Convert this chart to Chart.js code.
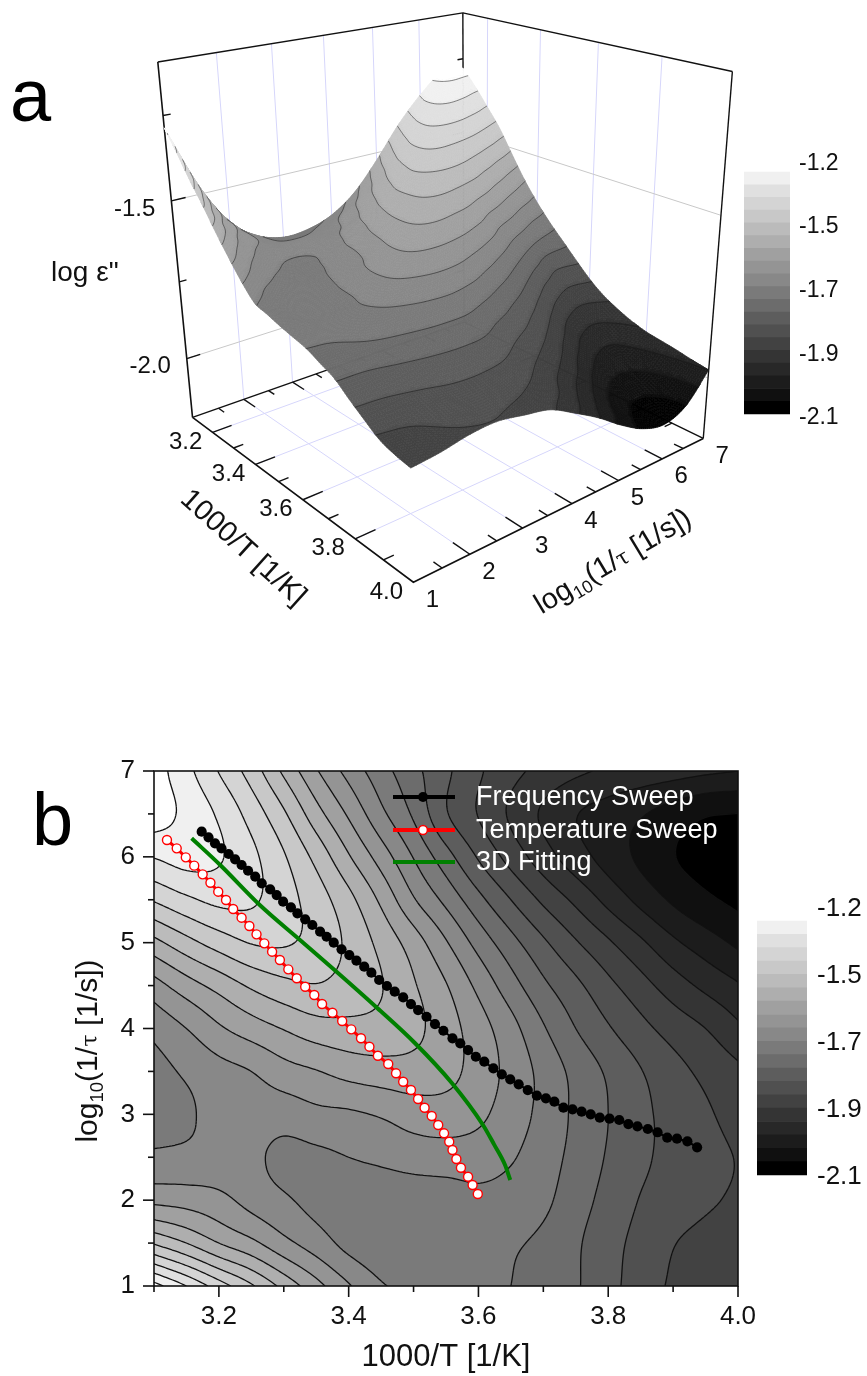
<!DOCTYPE html>
<html>
<head>
<meta charset="utf-8">
<title>log e'' surface</title>
<script src="https://cdn.jsdelivr.net/npm/chart.js@4/dist/chart.umd.min.js"></script>
<style>
  body { margin: 0; background: #fff; }
  canvas { position: absolute; }
</style>
</head>
<body>
<canvas id="surfaceChart" width="867" height="680" style="left:0;top:0"></canvas>
<canvas id="barTop" width="123" height="300" style="left:744px;top:140px"></canvas>
<canvas id="contourChart" width="867" height="676" style="left:0;top:700px"></canvas>
<canvas id="barBottom" width="110" height="310" style="left:757px;top:885px"></canvas>
<script>
// contour level (0 = black band, 19 = white corner), rows go from tau 7 down to 1
const tempAxis = [3.1, 3.15, 3.2, 3.25, 3.3, 3.35, 3.4, 3.45, 3.5, 3.55, 3.6, 3.65, 3.7, 3.75, 3.8, 3.85, 3.9, 3.95, 4.0]
const tauAxis = [7, 6.5, 6, 5.5, 5, 4.5, 4, 3.5, 3, 2.5, 2, 1.5, 1]
const levelGrid = [
  [19.5, 18.3, 16.95, 15.55, 13.8, 12.1, 10.65, 9.4, 8.3, 7.2, 6.15, 5.3, 4.7, 4.2, 3.85, 3.65, 3.45, 3.2, 3.0],
  [19.5, 18.75, 17.85, 16.6, 15.15, 13.4, 11.85, 10.25, 8.85, 7.1, 5.95, 4.85, 3.85, 3.05, 2.6, 2.1, 1.55, 1.1, 0.98],
  [18.05, 18.4, 18.1, 17.25, 16.1, 14.7, 13.1, 11.55, 9.95, 8.4, 6.9, 5.62, 4.46, 3.44, 2.6, 1.8, 1.05, 0.6, 0.3],
  [16.1, 16.8, 17.25, 17.15, 16.4, 15.5, 14.3, 12.8, 11.1, 9.73, 8.3, 7.0, 5.8, 4.77, 3.7, 2.71, 1.84, 1.2, 0.75],
  [13.7, 14.65, 15.45, 16.05, 16.1, 15.65, 14.8, 13.7, 12.5, 11.09, 9.63, 8.35, 7.17, 6.1, 5.14, 4.18, 3.2, 2.47, 1.8],
  [11.6, 12.55, 13.35, 14.15, 14.7, 14.95, 14.6, 14.05, 13.1, 12.06, 10.74, 9.42, 8.21, 7.24, 6.26, 5.38, 4.5, 3.75, 3.1],
  [10.28, 11.0, 11.85, 12.5, 13.05, 13.55, 13.7, 13.65, 13.25, 12.45, 11.45, 10.35, 9.1, 8.0, 7.1, 6.3, 5.6, 5.0, 4.2],
  [9.65, 10.15, 10.65, 11.0, 11.6, 11.95, 12.35, 12.55, 12.6, 12.35, 11.55, 10.68, 9.68, 8.7, 7.85, 7.05, 6.35, 5.75, 5.2],
  [9.55, 9.85, 10.35, 10.5, 10.45, 10.75, 10.85, 11.1, 11.45, 11.5, 11.2, 10.5, 9.7, 8.8, 8.0, 7.25, 6.65, 6.15, 5.6],
  [10.2, 10.25, 10.35, 10.2, 9.75, 9.8, 10.0, 10.2, 10.45, 10.55, 10.5, 10.1, 9.45, 8.7, 7.9, 7.2, 6.7, 6.3, 5.95],
  [11.75, 11.6, 11.3, 10.65, 10.15, 9.7, 9.5, 9.4, 9.4, 9.45, 9.7, 9.55, 9.2, 8.45, 7.65, 6.95, 6.55, 6.15, 5.85],
  [14.9, 14.0, 13.0, 12.25, 11.3, 10.5, 9.7, 9.3, 9.15, 9.15, 9.15, 9.1, 8.8, 8.15, 7.35, 6.7, 6.05, 5.7, 5.5],
  [19.4, 18.0, 16.5, 15.15, 13.7, 12.35, 11.1, 10.1, 9.8, 9.5, 9.25, 9.0, 8.55, 8.1, 7.3, 6.55, 5.85, 5.5, 5.3]
]

const freqSweepT = [3.1735, 3.184, 3.194, 3.204, 3.215, 3.225, 3.235, 3.245, 3.256, 3.266, 3.279, 3.289, 3.299, 3.311, 3.321, 3.333, 3.344, 3.356, 3.366, 3.377, 3.389, 3.401, 3.412, 3.424, 3.435, 3.447, 3.459, 3.471, 3.484, 3.496, 3.507, 3.52, 3.533, 3.546, 3.56, 3.572, 3.584, 3.596, 3.609, 3.623, 3.636, 3.649, 3.662, 3.676, 3.69, 3.704, 3.717, 3.731, 3.745, 3.759, 3.773, 3.787, 3.802, 3.817, 3.831, 3.845, 3.861, 3.876, 3.891, 3.906, 3.922, 3.937]
const freqSweepTau = [6.293, 6.227, 6.157, 6.099, 6.033, 5.971, 5.905, 5.838, 5.769, 5.691, 5.622, 5.555, 5.477, 5.412, 5.342, 5.272, 5.206, 5.128, 5.069, 5.0, 4.922, 4.856, 4.79, 4.72, 4.65, 4.565, 4.495, 4.429, 4.363, 4.285, 4.215, 4.137, 4.052, 3.974, 3.886, 3.827, 3.749, 3.671, 3.613, 3.536, 3.466, 3.408, 3.35, 3.283, 3.217, 3.187, 3.147, 3.077, 3.058, 3.031, 3.0, 2.961, 2.949, 2.934, 2.887, 2.86, 2.829, 2.791, 2.728, 2.716, 2.686, 2.616]
const tempSweepT = [3.12, 3.135, 3.149, 3.162, 3.175, 3.187, 3.199, 3.211, 3.222, 3.235, 3.247, 3.258, 3.27, 3.282, 3.294, 3.307, 3.32, 3.333, 3.347, 3.359, 3.375, 3.39, 3.404, 3.419, 3.432, 3.445, 3.461, 3.473, 3.484, 3.496, 3.507, 3.517, 3.528, 3.538, 3.547, 3.555, 3.56, 3.566, 3.573, 3.584, 3.591, 3.599]
const tempSweepTau = [6.196, 6.099, 5.994, 5.897, 5.796, 5.698, 5.594, 5.497, 5.392, 5.291, 5.194, 5.097, 4.992, 4.895, 4.798, 4.689, 4.585, 4.487, 4.39, 4.285, 4.184, 4.087, 3.99, 3.886, 3.788, 3.683, 3.586, 3.478, 3.38, 3.283, 3.179, 3.077, 2.98, 2.876, 2.779, 2.681, 2.584, 2.48, 2.378, 2.273, 2.177, 2.072]
const fitT = [3.158, 3.202, 3.263, 3.325, 3.38, 3.444, 3.502, 3.559, 3.607, 3.624, 3.641, 3.649]
const fitTau = [6.216, 5.905, 5.439, 5.031, 4.67, 4.239, 3.831, 3.365, 2.876, 2.65, 2.41, 2.235]

const bandGrays = [0, 16, 28, 40, 52, 66, 80, 93, 108, 122, 136, 148, 160, 174, 187, 200, 212, 224, 240]
const barLabels = ['-2.1', '-1.9', '-1.7', '-1.5', '-1.2']
const legendNames = ['Frequency Sweep', 'Temperature Sweep', '3D Fitting']
const FONT = '"Liberation Sans", Arial, sans-serif'

Chart.defaults.font.family = FONT
Chart.defaults.color = '#111'

function bandColor(i) {
  if (i >= bandGrays.length) return '#ffffff'
  let g = bandGrays[Math.max(i, 0)]
  return `rgb(${g},${g},${g})`
}

// catmull-rom over the grid read above
function cr(a, b, c, d, t) {
  return b + 0.5 * t * (c - a + t * (2 * a - 5 * b + 4 * c - d + t * (3 * (b - c) + d - a)))
}
function gridAt(r, c) {
  let rr = Math.min(Math.max(r, 0), tauAxis.length - 1)
  let cc = Math.min(Math.max(c, 0), tempAxis.length - 1)
  let v = levelGrid[rr][cc]
  if (r !== rr) v += (r - rr) * (levelGrid[rr][cc] - levelGrid[rr === 0 ? 1 : rr - 1][cc]) * (rr === 0 ? -1 : 1)
  if (c !== cc) v += (c - cc) * (levelGrid[rr][cc] - levelGrid[rr][cc === 0 ? 1 : cc - 1]) * (cc === 0 ? -1 : 1)
  return v
}
function levelAt(T, tau) {
  let u = (T - 3.1) / 0.05, v = (7 - tau) / 0.5
  let c = Math.min(Math.floor(u), tempAxis.length - 2), r = Math.min(Math.floor(v), tauAxis.length - 2)
  let fu = u - c, fv = v - r
  let rows = [-1, 0, 1, 2].map(dr => cr(gridAt(r + dr, c - 1), gridAt(r + dr, c), gridAt(r + dr, c + 1), gridAt(r + dr, c + 2), fu))
  return cr(rows[0], rows[1], rows[2], rows[3], fv)
}

function cutCell(pts, vals, L) {
  let poly = [], cross = []
  for (let i = 0; i < 4; i++) {
    let j = (i + 1) % 4
    if (vals[i] >= L) poly.push(pts[i])
    if ((vals[i] >= L) !== (vals[j] >= L)) {
      let t = (L - vals[i]) / (vals[j] - vals[i])
      let p = [pts[i][0] + t * (pts[j][0] - pts[i][0]), pts[i][1] + t * (pts[j][1] - pts[i][1])]
      poly.push(p)
      cross.push(p)
    }
  }
  return { poly, cross }
}
function addPoly(path, poly) {
  poly.forEach((p, i) => i ? path.lineTo(p[0], p[1]) : path.moveTo(p[0], p[1]))
  path.closePath()
}

function sampleSurface(nT, nTau) {
  let vals = []
  for (let i = 0; i <= nT; i++) {
    vals[i] = []
    for (let j = 0; j <= nTau; j++) vals[i][j] = levelAt(3.1 + 0.9 * i / nT, 7 - 6 * j / nTau)
  }
  return vals
}

// view of the 3d box: fitted from where its corners and ticks sit in the figure
const viewAnchors = [
  [3.1, 1, -2.2, 191, 417], [4, 1, -2.2, 413, 584], [4, 7, -2.2, 705, 437],
  [3.1, 1, -1.1, 157, 63], [3.1, 7, -1.1, 462, 12], [4, 7, -1.1, 732, 70],
  [3.6, 1, -2.2, 304, 499], [4, 4, -2.2, 572, 503], [3.1, 1, -1.5, 171, 201], [3.1, 1, -2, 187, 358],
  [4, 1, -1.877, 412, 467], [3.1, 1, -1.285, 165, 128], [3.1, 7, -1.281, 465, 69], [4, 7, -1.974, 706, 373]
]
function norm3(T, tau, z) { return [(T - 3.1) / 0.9, (tau - 1) / 6, (z + 2.2) / 1.1] }
function fitView() {
  let N = Array.from({ length: 11 }, () => new Array(12).fill(0))
  let add = (row, b) => {
    for (let i = 0; i < 11; i++) {
      for (let j = 0; j < 11; j++) N[i][j] += row[i] * row[j]
      N[i][11] += row[i] * b
    }
  }
  viewAnchors.forEach(a => {
    let [u, v, w] = norm3(a[0], a[1], a[2]), x = a[3] / 700, y = a[4] / 700
    add([u, v, w, 1, 0, 0, 0, 0, -x * u, -x * v, -x * w], x)
    add([0, 0, 0, 0, u, v, w, 1, -y * u, -y * v, -y * w], y)
  })
  for (let i = 0; i < 11; i++) {
    let best = i
    for (let k = i + 1; k < 11; k++) if (Math.abs(N[k][i]) > Math.abs(N[best][i])) best = k
    let tmp = N[i]; N[i] = N[best]; N[best] = tmp
    for (let k = 0; k < 11; k++) {
      if (k === i) continue
      let f = N[k][i] / N[i][i]
      for (let j = i; j < 12; j++) N[k][j] -= f * N[i][j]
    }
  }
  return N.map((row, i) => row[11] / row[i])
}
const P = fitView()
function project(T, tau, z) {
  let [u, v, w] = norm3(T, tau, z)
  let d = P[8] * u + P[9] * v + P[10] * w + 1
  return [700 * (P[0] * u + P[1] * v + P[2] * w + P[3]) / d, 700 * (P[4] * u + P[5] * v + P[6] * w + P[7]) / d]
}
function heightOf(level) { return -2.1 + 0.042 * level }

function logTauTitle(ctx, cx, cy, angle, size) {
  let parts = [['log', size, 0, FONT], ['10', size * 0.62, size * 0.2, FONT], ['(1/', size, 0, FONT], ['\u03c4', size * 0.75, 0, '"DejaVu Serif", serif'], [' [1/s])', size, 0, FONT]]
  let w = 0
  parts.forEach(p => { ctx.font = `${p[1]}px ${p[3]}`; p.w = ctx.measureText(p[0]).width; w += p.w })
  ctx.save()
  ctx.translate(cx, cy)
  ctx.rotate(angle)
  ctx.fillStyle = '#111'
  ctx.textAlign = 'left'
  ctx.textBaseline = 'alphabetic'
  let x = -w / 2
  parts.forEach(p => { ctx.font = `${p[1]}px ${p[3]}`; ctx.fillText(p[0], x, size * 0.36 + p[2]); x += p.w })
  ctx.restore()
}

const surfacePlugin = {
  id: 'surface3d',
  beforeDatasetsDraw(chart) {
    let ctx = chart.ctx, sx = chart.scales.x, sy = chart.scales.y
    let view = (T, tau, z) => { let p = project(T, tau, z); return [sx.getPixelForValue(p[0]), sy.getPixelForValue(p[1])] }
    let seg = (a, b, color, width) => {
      let p = view(a[0], a[1], a[2]), q = view(b[0], b[1], b[2])
      ctx.strokeStyle = color
      ctx.lineWidth = width
      ctx.beginPath(); ctx.moveTo(p[0], p[1]); ctx.lineTo(q[0], q[1]); ctx.stroke()
    }
    const blue = '#d6d6fb', gray = '#c8c8c8', FL = -2.2, TOP = -1.1
    ctx.save()
    for (let tau = 2; tau <= 6; tau++) {
      seg([3.1, tau, FL], [3.1, tau, TOP], blue, 1)
      seg([3.1, tau, FL], [4, tau, FL], blue, 1)
    }
    for (let T = 3.2; T < 3.9; T += 0.2) {
      seg([T, 7, FL], [T, 7, TOP], blue, 1)
      seg([T, 1, FL], [T, 7, FL], blue, 1)
    }
    ;[-1.5, -2].forEach(z => {
      seg([3.1, 1, z], [3.1, 7, z], gray, 1)
      seg([3.1, 7, z], [4, 7, z], gray, 1)
    })
    const ink = '#111'
    seg([3.1, 1, FL], [3.1, 1, TOP], ink, 1.6)
    seg([3.1, 7, FL], [3.1, 7, TOP], ink, 1.4)
    seg([4, 7, FL], [4, 7, TOP], ink, 1.4)
    seg([3.1, 1, TOP], [3.1, 7, TOP], ink, 1.4)
    seg([3.1, 7, TOP], [4, 7, TOP], ink, 1.4)
    seg([3.1, 1, FL], [3.1, 7, FL], ink, 1.4)
    seg([3.1, 7, FL], [4, 7, FL], ink, 1.4)
    ;[-1.25, -1.5, -1.75, -2].forEach((z, i) => {
      let len = i % 2 ? 0.25 : 0.13
      seg([3.1, 1, z], [3.1, 1 + len, z], ink, 1.4)
      seg([3.1, 7, z], [3.1, 7 - len, z], ink, 1.4)
    })
    for (let k = 3; k <= 13; k++) {
      let tau = k / 2, len = k % 2 ? 0.028 : 0.055
      seg([4, tau, FL], [4 - len, tau, FL], ink, 1.4)
      seg([3.1, tau, FL], [3.1 + len, tau, FL], ink, 1.4)
    }
    for (let k = 32; k <= 39; k++) {
      let T = k / 10, len = k % 2 ? 0.18 : 0.36
      seg([T, 1, FL], [T, 1 + len, FL], ink, 1.4)
      seg([T, 7, FL], [T, 7 - len, FL], ink, 1.4)
    }

    // surface, painted from the far corner to the near one
    let nT = 130, nTau = 130
    let vals = sampleSurface(nT, nTau)
    let pts = vals.map((col, i) => col.map((v, j) => view(3.1 + 0.9 * i / nT, 7 - 6 * j / nTau, heightOf(v))))
    let lines = new Path2D()
    ctx.lineJoin = 'round'
    for (let i = 0; i < nT; i++) {
      for (let j = 0; j < nTau; j++) {
        let p = [pts[i][j], pts[i + 1][j], pts[i + 1][j + 1], pts[i][j + 1]]
        let v = [vals[i][j], vals[i + 1][j], vals[i + 1][j + 1], vals[i][j + 1]]
        let lo = Math.floor(Math.min(...v)), hi = Math.floor(Math.max(...v))
        for (let L = lo; L <= hi; L++) {
          let c = L === lo ? { poly: p, cross: [] } : cutCell(p, v, L)
          ctx.fillStyle = ctx.strokeStyle = bandColor(L)
          ctx.lineWidth = 0.7
          ctx.beginPath(); addPoly(ctx, c.poly); ctx.fill(); ctx.stroke()
          for (let k = 0; k + 1 < c.cross.length; k += 2) {
            lines.moveTo(c.cross[k][0], c.cross[k][1])
            lines.lineTo(c.cross[k + 1][0], c.cross[k + 1][1])
          }
        }
      }
    }
    ctx.strokeStyle = 'rgba(20,20,20,0.75)'
    ctx.lineWidth = 0.7
    ctx.stroke(lines)
    ctx.restore()
  },
  afterDatasetsDraw(chart) {
    let ctx = chart.ctx, sx = chart.scales.x, sy = chart.scales.y
    let view = (T, tau, z) => { let p = project(T, tau, z); return [sx.getPixelForValue(p[0]), sy.getPixelForValue(p[1])] }
    ctx.save()
    ctx.fillStyle = '#111'
    ctx.textAlign = 'center'
    ctx.textBaseline = 'middle'
    ctx.font = `24px ${FONT}`
    ;['3.2', '3.4', '3.6', '3.8', '4.0'].forEach(t => {
      let p = view(+t, 1, -2.2)
      ctx.fillText(t, p[0] - 27, p[1] + 10)
    })
    ;['1', '2', '3', '4', '5', '6', '7'].forEach(t => {
      let p = view(4, +t, -2.2)
      ctx.fillText(t, p[0] + 19, p[1] + 18)
    })
    ctx.textAlign = 'right'
    ;['-1.5', '-2.0'].forEach(t => {
      let p = view(3.1, 1, +t)
      ctx.fillText(t, p[0] - 16, p[1] + 8)
    })
    ctx.textAlign = 'left'
    ctx.font = `28px ${FONT}`
    ctx.fillText('log \u03b5"', 51, 273)
    ctx.font = `74px ${FONT}`
    ctx.textBaseline = 'alphabetic'
    ctx.fillStyle = '#000'
    ctx.fillText('a', 10, 121)
    ctx.fillStyle = '#111'
    ctx.save()
    ctx.translate(243, 548)
    ctx.rotate(42 * Math.PI / 180)
    ctx.textAlign = 'center'
    ctx.textBaseline = 'middle'
    ctx.font = `29px ${FONT}`
    ctx.fillText('1000/T [1/K]', 0, 0)
    ctx.restore()
    logTauTitle(ctx, 612, 560, -31 * Math.PI / 180, 29)
    ctx.restore()
  }
}

const contourPlugin = {
  id: 'contourMap',
  beforeDatasetsDraw(chart) {
    let ctx = chart.ctx, sx = chart.scales.x, sy = chart.scales.y, area = chart.chartArea
    let nT = 195, nTau = 172
    let vals = sampleSurface(nT, nTau)
    let pts = vals.map((col, i) => col.map((v, j) => [sx.getPixelForValue(3.1 + 0.9 * i / nT), sy.getPixelForValue(7 - 6 * j / nTau)]))
    ctx.save()
    ctx.beginPath(); ctx.rect(area.left, area.top, area.right - area.left, area.bottom - area.top); ctx.clip()
    ctx.fillStyle = bandColor(0)
    ctx.fillRect(area.left, area.top, area.right - area.left, area.bottom - area.top)
    let lines = new Path2D()
    for (let L = 1; L <= 19; L++) {
      let path = new Path2D()
      for (let i = 0; i < nT; i++) {
        for (let j = 0; j < nTau; j++) {
          let v = [vals[i][j], vals[i + 1][j], vals[i + 1][j + 1], vals[i][j + 1]]
          let lo = Math.min(...v), hi = Math.max(...v)
          if (hi < L || lo >= L + 1) continue
          let p = [pts[i][j], pts[i + 1][j], pts[i + 1][j + 1], pts[i][j + 1]]
          let c = cutCell(p, v, L)
          addPoly(path, c.poly)
          for (let k = 0; k + 1 < c.cross.length; k += 2) {
            lines.moveTo(c.cross[k][0], c.cross[k][1])
            lines.lineTo(c.cross[k + 1][0], c.cross[k + 1][1])
          }
        }
      }
      ctx.fillStyle = bandColor(L)
      ctx.fill(path)
    }
    ctx.strokeStyle = '#111'
    ctx.lineWidth = 1.3
    ctx.stroke(lines)
    ctx.restore()
  },
  afterDatasetsDraw(chart) {
    let ctx = chart.ctx, sx = chart.scales.x, sy = chart.scales.y, area = chart.chartArea
    ctx.save()
    ctx.strokeStyle = '#111'
    ctx.lineWidth = 1.6
    ctx.strokeRect(area.left, area.top, area.right - area.left, area.bottom - area.top)
    sx.ticks.forEach(t => {
      let major = Math.round(t.value * 10) % 2 === 0, x = sx.getPixelForValue(t.value)
      ctx.beginPath(); ctx.moveTo(x, area.bottom); ctx.lineTo(x, area.bottom + (major ? 11 : 6)); ctx.stroke()
    })
    sy.ticks.forEach(t => {
      let major = Number.isInteger(t.value), y = sy.getPixelForValue(t.value)
      ctx.beginPath(); ctx.moveTo(area.left, y); ctx.lineTo(area.left - (major ? 11 : 6), y); ctx.stroke()
    })
    // legend
    let rows = [97, 130, 162]
    ctx.lineWidth = 4
    ;['#000', '#f00', '#008000'].forEach((c, i) => {
      ctx.strokeStyle = c
      ctx.beginPath(); ctx.moveTo(393, rows[i]); ctx.lineTo(455, rows[i]); ctx.stroke()
    })
    ctx.fillStyle = '#000'
    ctx.beginPath(); ctx.arc(423, rows[0], 5, 0, Math.PI * 2); ctx.fill()
    ctx.fillStyle = '#fff'
    ctx.strokeStyle = '#f00'
    ctx.lineWidth = 1.5
    ctx.beginPath(); ctx.arc(423, rows[1], 4.4, 0, Math.PI * 2); ctx.fill(); ctx.stroke()
    ctx.font = `27px ${FONT}`
    ctx.textBaseline = 'middle'
    ctx.textAlign = 'left'
    ctx.fillStyle = '#fff'
    legendNames.forEach((name, i) => ctx.fillText(name, 476, rows[i] + 1))
    ctx.fillStyle = '#000'
    ctx.font = `74px ${FONT}`
    ctx.textBaseline = 'alphabetic'
    ctx.fillText('b', 32, 145)
    logTauTitle(ctx, 86, 351, -Math.PI / 2, 30)
    ctx.restore()
  }
}

const frontEdge = [project(3.1, 1, -2.2), project(4, 1, -2.2), project(4, 7, -2.2)].map(p => ({ x: p[0], y: p[1] }))

new Chart(document.getElementById('surfaceChart'), {
  type: 'scatter',
  data: {
    datasets: [{ data: frontEdge, showLine: true, borderColor: '#111', borderWidth: 1.6, pointRadius: 0 }]
  },
  options: {
    responsive: false,
    animation: false,
    layout: { autoPadding: false },
    plugins: { legend: { display: false }, tooltip: { enabled: false } },
    scales: {
      x: { display: false, min: 0, max: 867 },
      y: { display: false, min: 0, max: 680, reverse: true }
    }
  },
  plugins: [surfacePlugin]
})

new Chart(document.getElementById('contourChart'), {
  type: 'scatter',
  data: {
    datasets: [
      {
        label: legendNames[2],
        data: fitT.map((x, i) => ({ x, y: fitTau[i] })),
        showLine: true, borderColor: '#008000', borderWidth: 4, pointRadius: 0, cubicInterpolationMode: 'monotone', order: 3
      },
      {
        label: legendNames[0],
        data: freqSweepT.map((x, i) => ({ x, y: freqSweepTau[i] })),
        showLine: true, borderColor: '#000', borderWidth: 2, pointRadius: 5.1, pointBackgroundColor: '#000', pointBorderWidth: 0, order: 2
      },
      {
        label: legendNames[1],
        data: tempSweepT.map((x, i) => ({ x, y: tempSweepTau[i] })),
        showLine: true, borderColor: '#f00', borderWidth: 3, pointRadius: 4.5, pointBackgroundColor: '#fff', pointBorderColor: '#f00', pointBorderWidth: 1.4, order: 1
      }
    ]
  },
  options: {
    responsive: false,
    animation: false,
    layout: { autoPadding: false, padding: { top: 71, right: 129 } },
    plugins: { legend: { display: false }, tooltip: { enabled: false } },
    scales: {
      x: {
        type: 'linear', min: 3.1, max: 4.0,
        afterFit: s => { s.height = 90 },
        grid: { display: false, drawTicks: false },
        border: { display: false },
        ticks: {
          stepSize: 0.1, autoSkip: false, maxRotation: 0, padding: 15, font: { size: 26 },
          callback: v => Math.round(v * 10) % 2 === 0 ? v.toFixed(1) : ''
        },
        title: { display: true, text: '1000/T [1/K]', font: { size: 31 }, padding: { top: 1, bottom: 0 } }
      },
      y: {
        type: 'linear', min: 1, max: 7,
        afterFit: s => { s.width = 154 },
        grid: { display: false, drawTicks: false },
        border: { display: false },
        ticks: {
          stepSize: 0.5, autoSkip: false, padding: 19, font: { size: 26 },
          callback: v => Number.isInteger(v) ? String(v) : ''
        }
      }
    }
  },
  plugins: [contourPlugin]
})

function colorBar(id, min, max, tickLevels, fontSize, axisWidth, pad) {
  new Chart(document.getElementById(id), {
    type: 'bar',
    data: {
      labels: [''],
      datasets: bandGrays.map((g, i) => ({ data: [1], backgroundColor: bandColor(i), borderWidth: 0, barPercentage: 1, categoryPercentage: 1 }))
    },
    options: {
      responsive: false,
      animation: false,
      layout: { autoPadding: false },
      plugins: { legend: { display: false }, tooltip: { enabled: false } },
      scales: {
        x: { display: false, stacked: true },
        y: {
          stacked: true, position: 'right', min, max,
          afterFit: s => { s.width = axisWidth; s.paddingTop = 0; s.paddingBottom = 0 },
          afterBuildTicks: s => { s.ticks = tickLevels.map(value => ({ value })) },
          grid: { display: false, drawTicks: false },
          border: { display: false },
          ticks: { autoSkip: false, padding: pad, font: { size: fontSize }, callback: (v, i) => barLabels[i] }
        }
      }
    }
  })
}
colorBar('barTop', -2.04, 21.51, [-0.31, 4.69, 9.69, 14.69, 19.69], 23, 77, 9)
colorBar('barBottom', -1.5, 21.69, [-0.15, 4.86, 9.87, 14.88, 19.89], 26, 60, 10)
</script>
</body>
</html>
